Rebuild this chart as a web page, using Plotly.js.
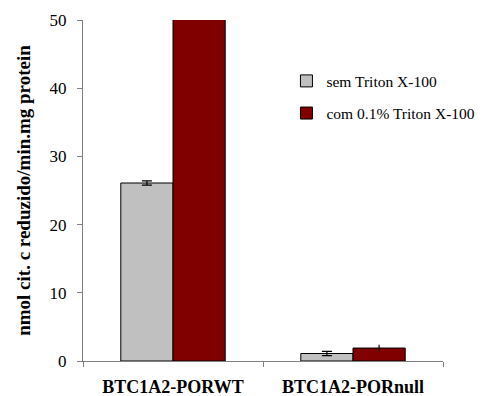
<!DOCTYPE html>
<html>
<head>
<meta charset="utf-8">
<script src="https://cdn.plot.ly/plotly-3.0.1.min.js"></script>
<style>html,body{margin:0;padding:0;background:#fff;}#chart{width:493px;height:396px;}</style>
</head>
<body>
<div id="chart"></div>
<script>
// Cytochrome c reduction rates per cell line, with and without detergent
const categories = ["BTC1A2-PORWT", "BTC1A2-PORnull"];
const semTriton = [26.1, 1.1];
const semTritonErr = [0.3, 0.3];
const comTriton = [75, 1.9];
const comTritonErr = [0.5, 0.5];
const seriesNames = ["sem Triton X-100", "com 0.1% Triton X-100"];
const yTicks = [0, 10, 20, 30, 40, 50];

const serif = "Liberation Serif, Times New Roman, serif";

const traces = [
  {
    type: "bar", name: seriesNames[0], x: categories, y: semTriton, legendgroup: "a",
    marker: {color: "#c0c0c0", line: {color: "#000", width: 1}},
    error_y: {type: "data", array: semTritonErr, visible: true, color: "#000", thickness: 1.2, width: 5}
  },
  {
    type: "bar", name: seriesNames[1], x: categories, y: comTriton, legendgroup: "b",
    marker: {color: "#800000", line: {color: "#000", width: 1}},
    error_y: {type: "data", array: comTritonErr, visible: true, color: "#000", thickness: 1.2, width: 0}
  }
];

const layout = {
  width: 493, height: 396,
  margin: {l: 83, r: 50, t: 20, b: 35},
  paper_bgcolor: "#fff", plot_bgcolor: "#fff",
  barmode: "group", bargap: 0.42, bargroupgap: 0,
  showlegend: true,
  legend: {
    x: 1.104, y: 0.87, xanchor: "right", yanchor: "top",
    font: {family: serif, size: 15.5, color: "#000"},
    bgcolor: "rgba(0,0,0,0)", traceorder: "grouped", tracegroupgap: 9, itemwidth: 30
  },
  xaxis: {
    type: "category", automargin: false,
    showline: true, linecolor: "#808080", linewidth: 1,
    ticks: "outside", tickson: "boundaries", ticklen: 5, tickcolor: "#808080",
    showgrid: false, zeroline: false,
    tickfont: {family: serif, size: 18, color: "#000", weight: "bold"},
    ticklabelstandoff: 9
  },
  yaxis: {
    range: [0, 50], tickvals: yTicks, automargin: false,
    showline: true, linecolor: "#808080", linewidth: 1,
    ticks: "outside", ticklen: 5, tickcolor: "#808080",
    showgrid: false, zeroline: false,
    tickfont: {family: serif, size: 17, color: "#000"},
    ticklabelstandoff: 7,
    title: {text: "nmol cit. c reduzido/min.mg protein", font: {family: serif, size: 19, color: "#000", weight: "bold"}, standoff: 13}
  }
};

Plotly.newPlot("chart", traces, layout, {displayModeBar: false, staticPlot: true});
</script>
</body>
</html>
